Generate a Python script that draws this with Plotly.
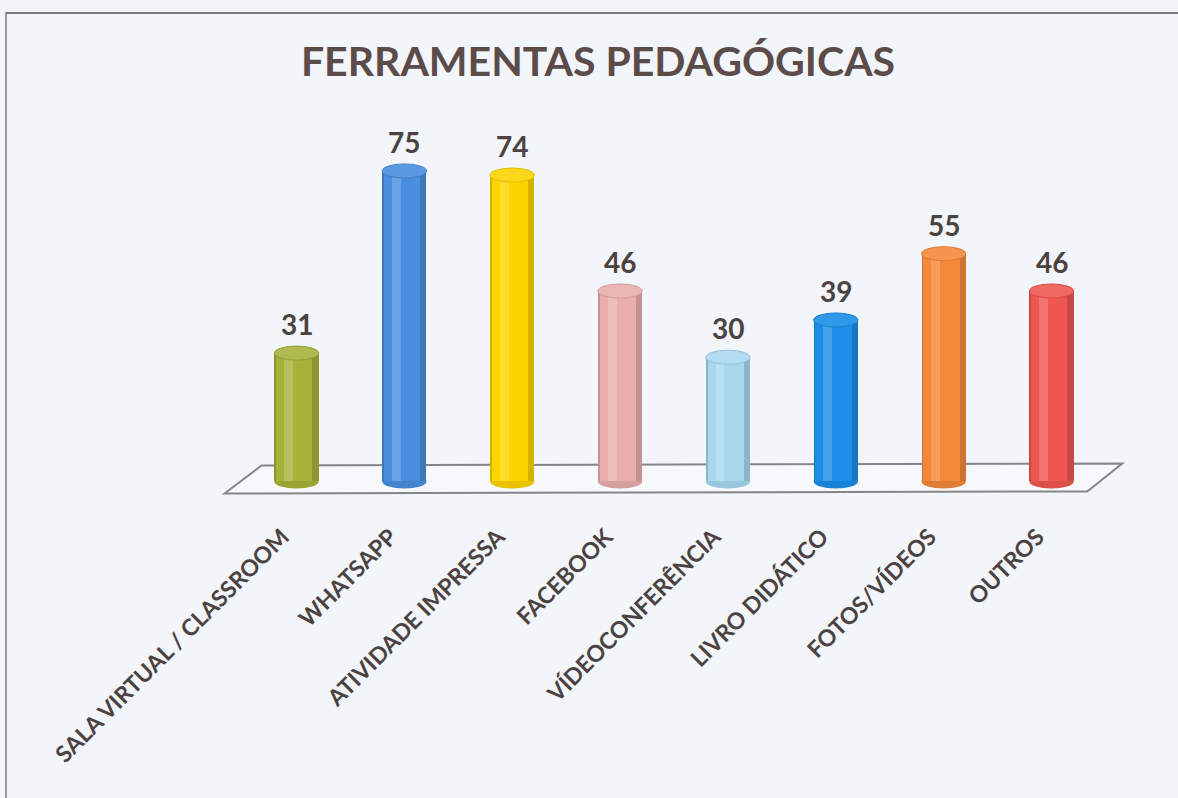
import plotly.graph_objects as go

categories = ["SALA VIRTUAL / CLASSROOM", "WHATSAPP", "ATIVIDADE IMPRESSA", "FACEBOOK",
              "VÍDEOCONFERÊNCIA", "LIVRO DIDÁTICO", "FOTOS/VÍDEOS", "OUTROS"]
values = [31, 75, 74, 46, 30, 39, 55, 46]
colors = ["#a6b23a", "#4a8ee0", "#fcd400", "#e9aeac", "#a8d8f0", "#1a8ee8", "#f4883a", "#ef5650"]

W_PX, H_PX = 1178, 798
L, R, T, B = 221, 51, 84, 300
X_PAD = 0.7
Y_MIN, Y_MAX = -4, 96


def mix(hexc, other, t):
    a = [int(hexc[i:i + 2], 16) for i in (1, 3, 5)]
    b = [int(other[i:i + 2], 16) for i in (1, 3, 5)]
    c = [round(a[k] * (1 - t) + b[k] * t) for k in range(3)]
    return "#%02x%02x%02x" % tuple(c)


def px_x(px):
    return (px - L) / (W_PX - L - R)


def px_y(py):
    return 1 - (py - T) / (H_PX - T - B)


n = len(categories)
x = list(range(n))
W = 0.41
CAP = 1.7

fig = go.Figure()
fig.add_bar(x=x, y=values, width=W, offset=-W / 2,
            marker=dict(color=[mix(c, "#000000", 0.16) for c in colors], line_width=0),
            hoverinfo="skip")
fig.add_bar(x=x, y=values, width=W * 0.82, offset=-W * 0.46,
            marker=dict(color=colors, line_width=0), hoverinfo="skip")
fig.add_bar(x=x, y=values, width=W * 0.2, offset=-W * 0.28,
            marker=dict(color=[mix(c, "#ffffff", 0.18) for c in colors], line_width=0),
            hoverinfo="skip")

shapes = []
# floor (parallelogram under the cylinders)
shapes.append(dict(type="path", xref="x", yref="y", layer="below",
                   path=(f"M {-0.667} {-2.9} L {-0.324} {3.86} "
                         f"L {n - 1 + 0.656} {4.35} L {n - 1 + 0.331} {-2.42} Z"),
                   fillcolor="#f6f8fc", line=dict(color="#858585", width=2)))
for i, (v, c) in enumerate(zip(values, colors)):
    shapes.append(dict(type="circle", xref="x", yref="y", layer="below",
                       x0=i - W / 2, x1=i + W / 2, y0=-CAP, y1=CAP,
                       fillcolor=mix(c, "#000000", 0.08), line_width=0))
    shapes.append(dict(type="circle", xref="x", yref="y", layer="above",
                       x0=i - W / 2, x1=i + W / 2, y0=v - CAP, y1=v + CAP,
                       fillcolor=mix(c, "#ffffff", 0.1), line=dict(color=mix(c, "#000000", 0.1), width=1)))
# scan border lines
shapes.append(dict(type="line", xref="paper", yref="paper", x0=px_x(6), x1=px_x(6), y0=px_y(12), y1=px_y(798),
                   line=dict(color="#9c9c9c", width=2)))
shapes.append(dict(type="line", xref="paper", yref="paper", x0=px_x(6), x1=px_x(1178), y0=px_y(13), y1=px_y(13),
                   line=dict(color="#7a7a7a", width=2)))

annotations = []
for i, v in enumerate(values):
    annotations.append(dict(x=i, y=v + CAP, xref="x", yref="y", text=str(v), showarrow=False,
                            yanchor="bottom", yshift=3,
                            font=dict(family="Lato", size=28, weight=700, color="#4b4241")))

fig.update_layout(
    width=W_PX, height=H_PX,
    margin=dict(l=L, r=R, t=T, b=B, autoexpand=False),
    barmode="overlay", bargap=0,
    showlegend=False,
    paper_bgcolor="#f2f5fa", plot_bgcolor="rgba(0,0,0,0)",
    title=dict(text="FERRAMENTAS PEDAGÓGICAS", xref="container", yref="container",
               x=598 / W_PX, y=1 - 62 / H_PX, xanchor="center", yanchor="middle",
               font=dict(family="Lato", size=41, weight=700, color="#5b4b49")),
    shapes=shapes, annotations=annotations,
    xaxis=dict(range=[-X_PAD, n - 1 + X_PAD], tickvals=x, ticktext=categories, tickangle=-45,
               showgrid=False, zeroline=False, showline=False, ticks="", automargin=False,
               ticklabelstandoff=20, ticklabelshift=-14,
               tickfont=dict(family="Lato", size=23, weight=700, color="#4b4241")),
    yaxis=dict(range=[Y_MIN, Y_MAX], visible=False, showgrid=False, zeroline=False),
)

fig.write_html("out.html")
